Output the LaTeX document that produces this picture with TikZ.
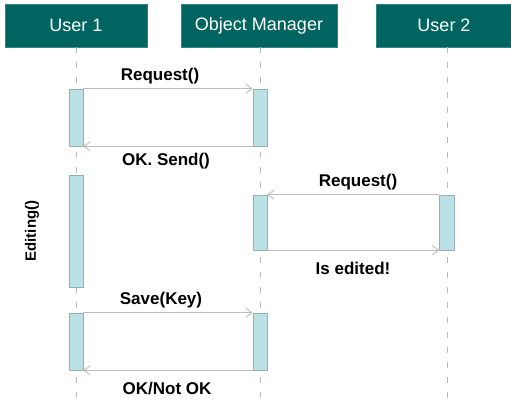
\documentclass[tikz,border=0pt]{standalone}
\usepackage{fontspec}
\setmainfont{Liberation Sans}
\usetikzlibrary{arrows.meta}
\definecolor{headteal}{RGB}{0,101,96}
\definecolor{actfill}{RGB}{185,225,230}
\definecolor{actdraw}{RGB}{150,175,178}
\definecolor{lifegray}{RGB}{185,185,185}
\definecolor{msggray}{RGB}{190,190,190}
\begin{document}
\begin{tikzpicture}[x=1pt,y=-1pt,
  header/.style={fill=headteal,draw=headteal!80!white,minimum height=43pt,inner sep=0pt,
    text=white,font=\fontsize{18}{21}\selectfont},
  actbox/.style={fill=actfill,draw=actdraw,line width=0.6pt,minimum width=14pt,inner sep=0pt},
  lifeline/.style={draw=lifegray,line width=0.8pt,dash pattern=on 6pt off 9pt},
  msg/.style={draw=msggray,line width=0.9pt,-{Straight Barb[length=6pt,width=9pt]}},
  lbl/.style={font=\fontsize{17}{20}\selectfont\bfseries,inner sep=0pt}]
\useasboundingbox (0,0) rectangle (511,404);
\fill[white] (0,0) rectangle (511,404);
% headers
\node[header,minimum width=142pt] (u1) at (76,25.5) {User 1};
\node[header,minimum width=156pt] (om) at (259,25.5) {Object Manager};
\node[header,minimum width=136pt] (u2) at (444,25.5) {User 2};
% lifeline ends
\coordinate (u1end) at (76,404);
\coordinate (omend) at (260,404);
\coordinate (u2end) at (447,404);
\draw[lifeline] (76,47) -- (u1end);
\draw[lifeline] (260,47) -- (omend);
\draw[lifeline] (447,47) -- (u2end);
% activation boxes
\node[actbox,minimum height=57pt] (a1) at (76,117.5) {};
\node[actbox,minimum height=57pt] (b1) at (260,117.5) {};
\node[actbox,minimum height=112pt] (a2) at (76,231) {};
\node[actbox,minimum height=55pt] (b2) at (260,222.5) {};
\node[actbox,minimum height=55pt,minimum width=15pt] (c2) at (447,222.5) {};
\node[actbox,minimum height=57pt] (a3) at (76,341.5) {};
\node[actbox,minimum height=57pt] (b3) at (260,341.5) {};
% messages
\draw[msg] (a1.north east) -- (b1.north west);
\draw[msg] (b1.south west) -- (a1.south east);
\draw[msg] (c2.north west) -- (b2.north east);
\draw[msg] (b2.south east) -- (c2.south west);
\draw[msg] (a3.north east) -- (b3.north west);
\draw[msg] (b3.south west) -- (a3.south east);
% labels
\node[lbl] (l1) at (160,76) {Request()};
\node[lbl] (l2) at (166,161) {OK. Send()};
\node[lbl] (l3) at (358,182) {Request()};
\node[lbl] (l4) at (353,268) {Is edited!};
\node[lbl] (l5) at (161,300) {Save(Key)};
\node[lbl] (l6) at (167,389) {OK/Not OK};
\node[lbl,rotate=90,font=\fontsize{15}{18}\selectfont\bfseries] (l7) at (32,231) {Editing()};
\end{tikzpicture}
\end{document}
